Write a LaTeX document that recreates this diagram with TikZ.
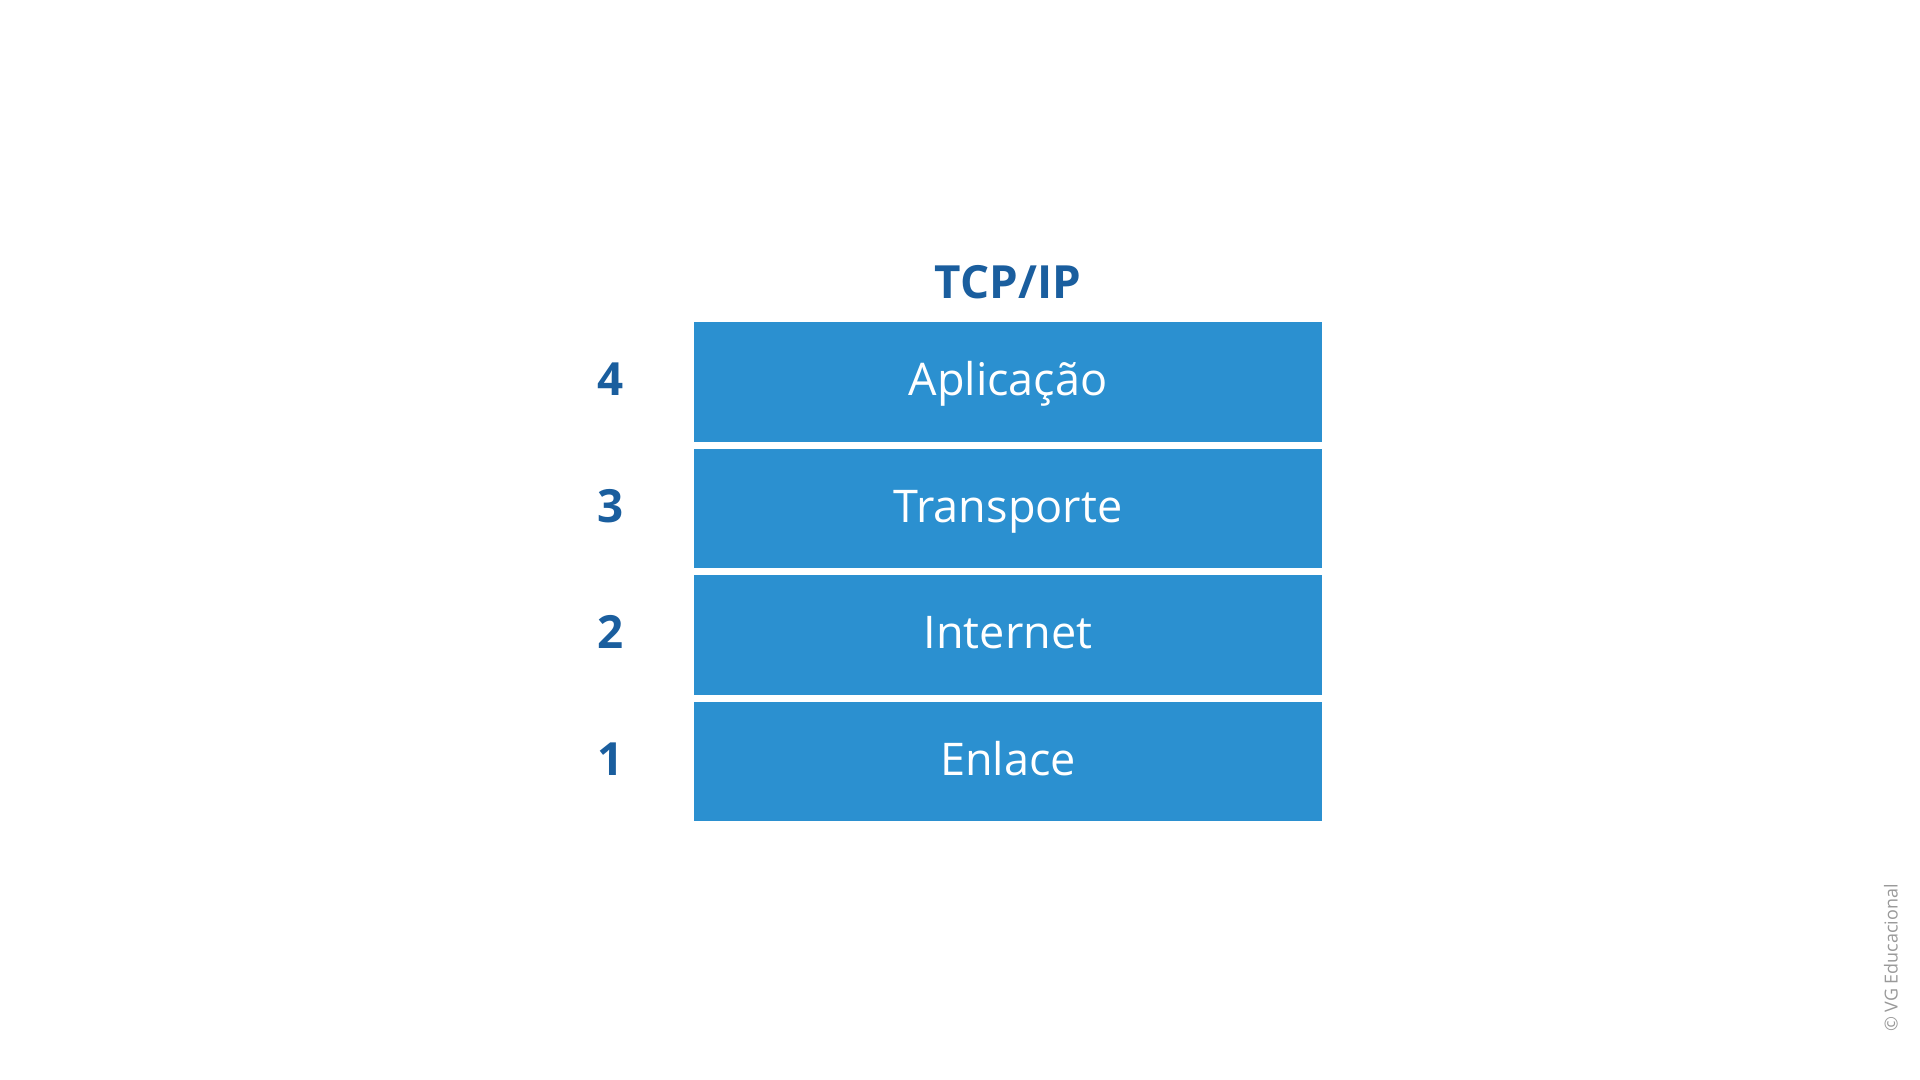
\documentclass[tikz,border=0pt]{standalone}
\usepackage{fontspec}
\setmainfont{Open Sans}
\usepackage{xcolor}
\definecolor{layerblue}{HTML}{2B90D0}
\definecolor{titleblue}{HTML}{1A5E9E}

\begin{document}
\begin{tikzpicture}[x=0.01cm,y=-0.01cm,
    layer/.style={fill=layerblue,text=white,inner sep=0pt,minimum width=6.28cm,minimum height=1.19cm,
        text height=0.32cm,text depth=0.04cm,font=\fontsize{12.8}{14}\selectfont},
    num/.style={text=titleblue,anchor=base,font=\fontsize{13}{15}\selectfont\bfseries}]
    \useasboundingbox (0,0) rectangle (1920,1080);

    \node[text=titleblue,anchor=base,font=\fontsize{13}{15}\selectfont\bfseries] (title) at (1008,298.5) {TCP/IP};

    \node[layer] (app) at (1008,382) {Aplicação};
    \node[layer] (trans) at (1008,508.5) {Transporte};
    \node[layer] (inet) at (1008,635) {Internet};
    \node[layer] (link) at (1008,761.5) {Enlace};

    \node[num] (n4) at (610.5,396) {4};
    \node[num] (n3) at (610.5,522.5) {3};
    \node[num] (n2) at (610.5,649) {2};
    \node[num] (n1) at (610.5,775.5) {1};

    \node[text=black!40,rotate=90,font=\fontsize{5.1}{6}\selectfont] (credit) at (1891,958) {© VG Educacional};
\end{tikzpicture}
\end{document}
